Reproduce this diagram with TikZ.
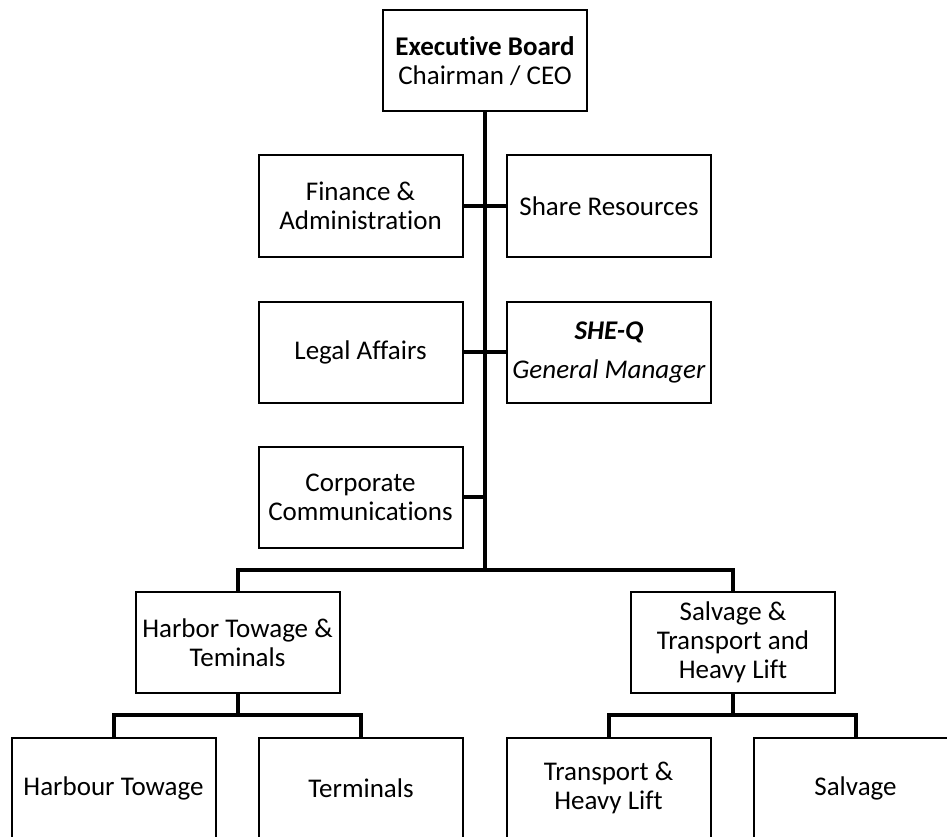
\documentclass[tikz,border=0pt]{standalone}
\usepackage{fontspec}
\setmainfont{Carlito}[Ligatures={NoCommon}]
\begin{document}
\begin{tikzpicture}[x=1pt,y=-1pt,
  unit/.style={draw, line width=2pt, minimum width=204pt, minimum height=101pt,
    inner sep=0pt, align=center, font=\fontsize{27}{29}\selectfont},
  link/.style={line width=4pt, line join=miter}]
\useasboundingbox (0,0) rectangle (947,837);
\clip (0,0) rectangle (947,837);
\fill[white] (0,0) rectangle (947,837);

\node[unit] (ceo) at (485,61) {\textbf{Executive Board}\\Chairman / CEO};
\node[unit] (fin) at (360.5,206) {Finance \&\\Administration};
\node[unit] (share) at (609,206) {Share Resources};
\node[unit] (legal) at (360.5,352) {Legal Affairs};
\node[unit] (sheq) at (609,352) {\textbf{\textit{SHE-Q}}\\[10pt]\textit{General Manager}};
\node[unit] (corp) at (360.5,497) {Corporate\\Communications};
\node[unit] (harbor) at (237.5,642.5) {Harbor Towage \&\\Teminals};
\node[unit] (salvh) at (733,642) {Salvage \&\\Transport and\\Heavy Lift};
\node[unit] (ht) at (113.5,788) {Harbour Towage};
\node[unit] (term) at (361,788) {Terminals};
\node[unit] (trans) at (608.5,788) {Transport \&\\Heavy Lift};
\node[unit] (salv) at (855.5,788) {Salvage};

\coordinate (bus) at (485,570);
\coordinate (hsub) at (237.5,715);
\coordinate (ssub) at (733,715);

\draw[link] (ceo.south) -- (bus);
\draw[link] (fin.east) -- (share.west);
\draw[link] (legal.east) -- (sheq.west);
\draw[link] (corp.east) -- (corp.east -| bus);
\draw[link] (harbor.north) -- (harbor.north |- bus) -- (salvh.north |- bus) -- (salvh.north);
\draw[link] (harbor.south) -- (hsub);
\draw[link] (ht.north) -- (ht.north |- hsub) -- (term.north |- hsub) -- (term.north);
\draw[link] (salvh.south) -- (ssub);
\draw[link] (trans.north) -- (trans.north |- ssub) -- (salv.north |- ssub) -- (salv.north);
\end{tikzpicture}
\end{document}
